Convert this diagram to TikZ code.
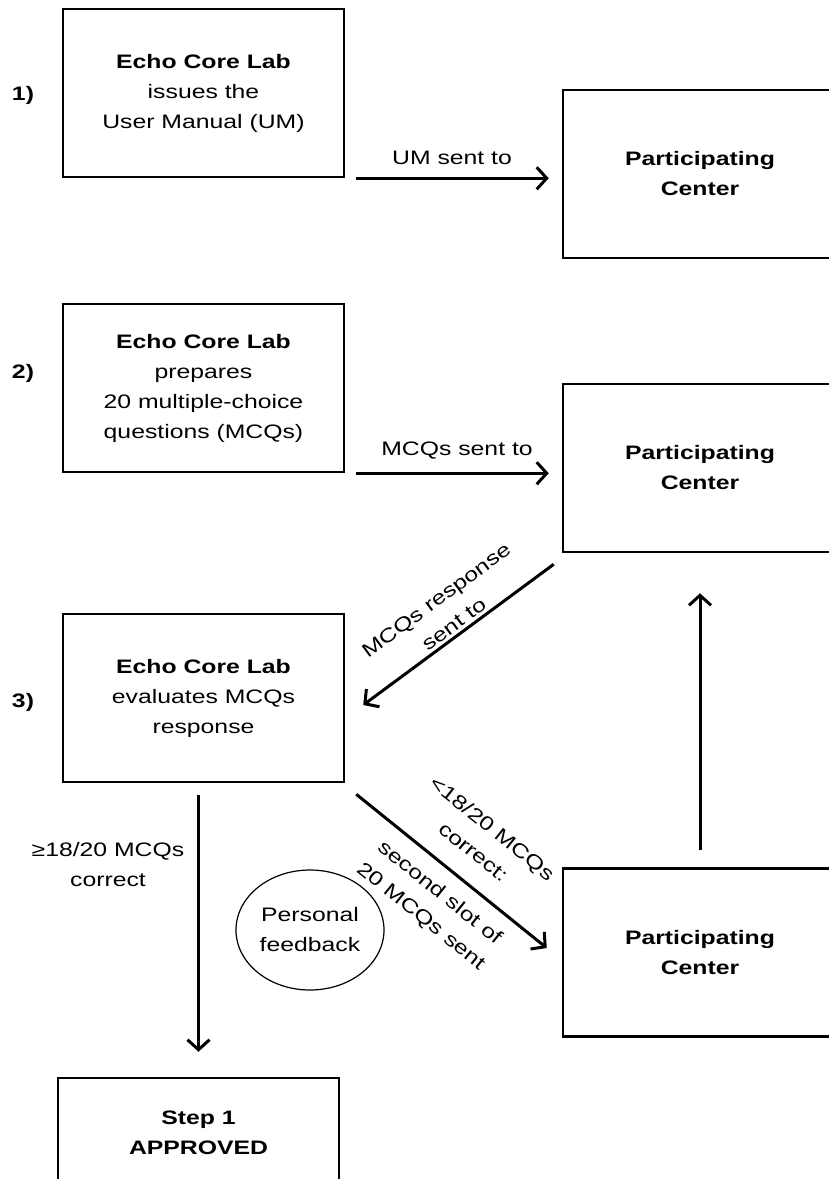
\documentclass[tikz,border=0pt]{standalone}
\usepackage{fontspec}
\setmainfont{Liberation Sans}[FakeStretch=1.27]
\usetikzlibrary{arrows.meta,shapes.geometric}

\begin{document}
\begin{tikzpicture}[x=1pt,y=-1pt,
  font=\fontsize{19.5}{30}\selectfont,
  labbox/.style={draw,line width=2.5pt,minimum width=281pt,minimum height=168pt,align=center,inner sep=0pt},
  ctrbox/.style={labbox,minimum width=274pt,font=\fontsize{19.5}{30}\selectfont\bfseries},
  flow/.style={line width=3pt,-{Straight Barb[length=10pt,width=22pt]}},
  lbl/.style={align=center,inner sep=0pt}]
\useasboundingbox (0,0) rectangle (829,1179);
\clip (0,0) rectangle (829,1179);
% Echo Core Lab boxes down the left side
\node[labbox] (lab1) at (203.5,93) {\textbf{Echo Core Lab}\\issues the\\User Manual (UM)};
\node[labbox] (lab2) at (203.5,388) {\textbf{Echo Core Lab}\\prepares\\20 multiple-choice\\questions (MCQs)};
\node[labbox] (lab3) at (203.5,698) {\textbf{Echo Core Lab}\\evaluates MCQs\\response};
\node[labbox,minimum height=110pt] (step) at (198.5,1133) {\textbf{Step 1}\\\textbf{APPROVED}};
% the step numbers
\node[lbl] (n1) at (23,95) {\textbf{1)}};
\node[lbl] (n2) at (23,373) {\textbf{2)}};
\node[lbl] (n3) at (23,702) {\textbf{3)}};
% Participating Center boxes, cut off by the right edge
\node[ctrbox] (ctr1) at (700,174) {Participating\\Center};
\node[ctrbox] (ctr2) at (700,468) {Participating\\Center};
\node[ctrbox] (ctr3) at (700,952.5) {Participating\\Center};
% the arrows
\draw[flow] ([xshift=11pt]lab1.south east) -- ([xshift=-13pt]lab1.south east -| ctr1.west);
\draw[flow] ([xshift=11pt]lab2.south east) -- ([xshift=-13pt]lab2.south east -| ctr2.west);
\draw[flow] ([xshift=-8pt,yshift=-11pt]ctr2.south west) -- ([xshift=18pt,yshift=-7pt]lab3.east);
\draw[flow] ([xshift=11pt,yshift=-11pt]lab3.south east) -- ([xshift=-15pt,yshift=4.5pt]ctr3.west);
\draw[flow] ([yshift=-12pt]lab3.south -| step.north) -- ([yshift=25pt]step.north);
\draw[flow] ([yshift=17pt]ctr3.north) -- ([yshift=-40pt]ctr2.south);
% arrow labels
\node[lbl] (um) at (452,158) {UM sent to};
\node[lbl] (mcq) at (457,451) {MCQs sent to};
\node[lbl,rotate=36.3] (resp) at (445,612) {MCQs response\\sent to};
\node[lbl,rotate=-38.8] (fail) at (483,840) {<18/20 MCQs\\correct:};
\node[lbl,rotate=-38.8] (again) at (430,905) {second slot of\\20 MCQs sent};
\node[lbl] (pass) at (108,865) {≥18/20 MCQs\\correct};
% feedback bubble
\node[draw,ellipse,line width=1.2pt,minimum width=148pt,minimum height=120pt,align=center,inner sep=0pt] (fb) at (310,930) {Personal\\feedback};
\end{tikzpicture}
\end{document}
